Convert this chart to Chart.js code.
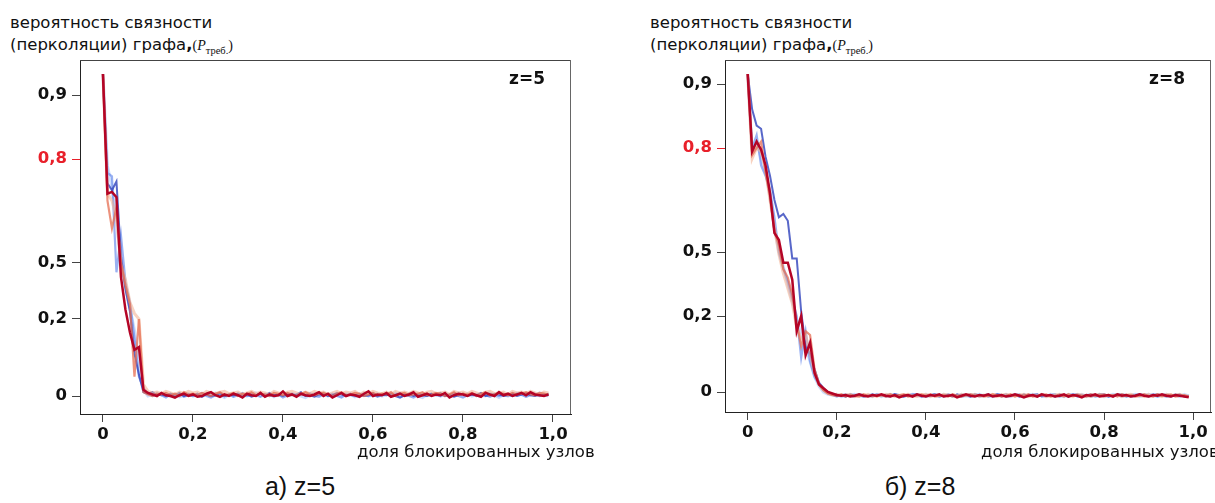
<!DOCTYPE html>
<html>
<head>
<meta charset="utf-8">
<script src="https://cdn.jsdelivr.net/npm/chart.js@4/dist/chart.umd.min.js"></script>
<style>
  html, body { margin: 0; padding: 0; background: #fff; width: 1215px; height: 503px; overflow: hidden; }
  .box { position: absolute; }
  .ttl { position: absolute; font-family: 'DejaVu Sans', sans-serif; font-size: 16.5px; line-height: 22px; color: #111; white-space: nowrap; }
  .ttl .p { font-family: 'Liberation Serif', serif; font-size: 14px; }
  .ttl sub { font-size: 10.5px; }
  .xt { position: absolute; font-family: 'DejaVu Sans', sans-serif; font-size: 16.5px; line-height: 20px; color: #111; white-space: nowrap; }
  .cap { position: absolute; width: 300px; text-align: center; font-family: 'Liberation Sans', Arial, sans-serif; font-size: 25px; line-height: 30px; color: #111; }
</style>
</head>
<body>
<div class="ttl" style="left:10px;top:12px">вероятность связности<br>(перколяции) графа<b>,</b><span class="p">(<i>P</i><sub>треб.</sub>)</span></div>
<div class="ttl" style="left:650px;top:12px">вероятность связности<br>(перколяции) графа<b>,</b><span class="p">(<i>P</i><sub>треб.</sub>)</span></div>
<div class="box" style="left:0;top:0;width:610px;height:470px"><canvas id="g5"></canvas></div>
<div class="box" style="left:645px;top:0;width:570px;height:470px"><canvas id="g8"></canvas></div>
<div class="xt" style="left:357px;top:442px">доля блокированных узлов</div>
<div class="xt" style="left:981px;top:442px">доля блокированных узлов</div>
<div class="cap" style="left:150px;top:471px">а) z=5</div>
<div class="cap" style="left:770px;top:471px">б) z=8</div>
<script>
// доля блокированных узлов
const xs = [
  0, 0.01, 0.02, 0.03, 0.04, 0.05, 0.06, 0.07, 0.08, 0.09,
  0.10, 0.11, 0.12, 0.13, 0.14, 0.15, 0.16, 0.17, 0.18, 0.19,
  0.20, 0.21, 0.22, 0.23, 0.24, 0.25, 0.26, 0.27, 0.28, 0.29,
  0.30, 0.31, 0.32, 0.33, 0.34, 0.35, 0.36, 0.37, 0.38, 0.39,
  0.40, 0.41, 0.42, 0.43, 0.44, 0.45, 0.46, 0.47, 0.48, 0.49,
  0.50, 0.51, 0.52, 0.53, 0.54, 0.55, 0.56, 0.57, 0.58, 0.59,
  0.60, 0.61, 0.62, 0.63, 0.64, 0.65, 0.66, 0.67, 0.68, 0.69,
  0.70, 0.71, 0.72, 0.73, 0.74, 0.75, 0.76, 0.77, 0.78, 0.79,
  0.80, 0.81, 0.82, 0.83, 0.84, 0.85, 0.86, 0.87, 0.88, 0.89,
  0.90, 0.91, 0.92, 0.93, 0.94, 0.95, 0.96, 0.97, 0.98, 0.99
];
const xTicks = [0, 0.2, 0.4, 0.6, 0.8, 1.0];
const yTicks = [0, 0.2, 0.5, 0.8, 0.9];

// z=5
const z5Red = [
  1.0, 0.70, 0.705, 0.69, 0.425, 0.25, 0.165, 0.12, 0.127, 0.016,
  0.008, 0.004, 0.0, 0.008, 0.002, 0.0, -0.004, 0.002, 0.006, 0.0,
  0.004, -0.002, 0.0, 0.006, 0.01, 0.002, -0.002, 0.004, 0.0, 0.006,
  0.002, -0.004, 0.006, 0.002, 0.0, 0.008, -0.002, 0.004, 0.0, 0.002,
  0.012, 0.0, 0.004, -0.002, 0.006, 0.002, 0.0, 0.004, 0.01, 0.0,
  0.006, -0.004, 0.002, 0.008, 0.0, 0.004, 0.002, -0.002, 0.006, 0.012,
  0.0, 0.004, 0.002, 0.008, -0.002, 0.002, 0.006, 0.0, 0.004, 0.01,
  -0.002, 0.002, 0.006, 0.0, 0.004, 0.002, 0.008, -0.004, 0.002, 0.006,
  0.004, 0.0, 0.006, 0.002, -0.002, 0.008, 0.004, 0.0, 0.01, 0.002,
  0.006, 0.0, 0.004, 0.008, 0.002, 0.01, 0.004, 0.002, 0.0, 0.004
];
const z5Orange = [
  1.0, 0.68, 0.60, 0.66, 0.50, 0.38, 0.28, 0.05, 0.20, 0.01,
  0.004, 0.0, 0.006, 0.004, 0.008, 0.002, 0.006, 0.0, 0.01, 0.004,
  0.006, 0.002, 0.008, 0.004, 0.0, 0.006, 0.01, 0.002, 0.004, 0.008,
  0.0, 0.006, 0.004, 0.01, 0.002, 0.006, 0.004, 0.0, 0.008, 0.006,
  0.002, 0.008, 0.004, 0.0, 0.006, 0.01, 0.004, 0.002, 0.006, 0.008,
  0.004, 0.0, 0.006, 0.01, 0.002, 0.004, 0.008, 0.006, 0.0, 0.004,
  0.008, 0.002, 0.006, 0.004, 0.01, 0.0, 0.006, 0.008, 0.002, 0.004,
  0.006, 0.01, 0.002, 0.004, 0.008, 0.006, 0.0, 0.004, 0.01, 0.002,
  0.006, 0.004, 0.008, 0.0, 0.006, 0.01, 0.002, 0.004, 0.008, 0.006,
  0.002, 0.008, 0.004, 0.006, 0.01, 0.004, 0.002, 0.008, 0.006, 0.004
];
const z5Salmon = [
  1.0, 0.70, 0.68, 0.63, 0.49, 0.41, 0.29, 0.23, 0.20, 0.03,
  0.012, 0.008, 0.01, 0.006, 0.012, 0.008, 0.004, 0.01, 0.006, 0.012,
  0.008, 0.01, 0.004, 0.012, 0.008, 0.006, 0.01, 0.012, 0.006, 0.008,
  0.01, 0.004, 0.008, 0.012, 0.006, 0.01, 0.008, 0.004, 0.012, 0.008,
  0.006, 0.01, 0.012, 0.008, 0.004, 0.01, 0.006, 0.012, 0.008, 0.01,
  0.004, 0.008, 0.012, 0.006, 0.01, 0.008, 0.012, 0.004, 0.01, 0.006,
  0.012, 0.008, 0.006, 0.01, 0.004, 0.012, 0.008, 0.01, 0.006, 0.012,
  0.008, 0.004, 0.01, 0.012, 0.006, 0.008, 0.01, 0.004, 0.012, 0.008,
  0.01, 0.006, 0.012, 0.008, 0.004, 0.01, 0.012, 0.006, 0.008, 0.01,
  0.004, 0.012, 0.008, 0.01, 0.006, 0.012, 0.008, 0.004, 0.01, 0.008
];
const z5DarkBlue = [
  1.0, 0.73, 0.71, 0.735, 0.52, 0.36, 0.24, 0.11, 0.055, 0.01,
  0.006, 0.01, 0.002, 0.004, 0.0, 0.006, 0.002, 0.008, 0.0, 0.004,
  0.002, 0.006, -0.002, 0.004, 0.0, 0.002, 0.008, 0.0, 0.004, 0.002,
  0.006, 0.0, 0.004, -0.002, 0.002, 0.006, 0.0, 0.008, 0.002, 0.004,
  0.0, 0.006, 0.002, 0.004, 0.01, 0.0, 0.002, -0.002, 0.004, 0.006,
  0.0, 0.002, 0.008, 0.004, 0.0, 0.006, 0.002, 0.004, 0.0, 0.002,
  0.008, 0.0, 0.004, 0.002, 0.006, 0.0, -0.004, 0.002, 0.006, 0.0,
  0.004, 0.002, 0.0, 0.006, 0.002, 0.008, 0.0, 0.004, -0.002, 0.002,
  0.006, 0.0, 0.004, 0.002, 0.008, 0.0, 0.002, 0.006, 0.004, 0.0,
  0.002, 0.006, 0.0, 0.004, 0.008, 0.002, 0.0, 0.004, 0.002, 0.006
];
const z5Blue = [
  1.0, 0.76, 0.75, 0.45, 0.58, 0.40, 0.29, 0.15, 0.05, 0.02,
  0.008, 0.0, 0.006, 0.002, -0.004, 0.004, 0.0, 0.006, -0.002, 0.002,
  0.0, 0.004, 0.008, 0.0, -0.004, 0.002, 0.006, 0.0, 0.004, -0.002,
  0.002, 0.008, 0.0, 0.004, 0.002, -0.002, 0.006, 0.0, 0.002, 0.004,
  -0.004, 0.002, 0.006, 0.0, 0.004, 0.002, 0.008, 0.0, -0.002, 0.004,
  0.002, 0.006, 0.0, -0.004, 0.004, 0.002, 0.0, 0.006, 0.002, 0.0,
  0.004, -0.002, 0.002, 0.006, 0.0, 0.004, 0.008, 0.002, 0.0, -0.004,
  0.002, 0.006, 0.0, 0.004, 0.002, 0.0, 0.006, 0.002, 0.008, 0.0,
  -0.004, 0.002, 0.004, 0.0, 0.006, 0.002, -0.002, 0.004, 0.0, 0.006,
  0.002, 0.0, 0.008, 0.004, -0.002, 0.002, 0.006, 0.0, 0.004, 0.002
];
const z5LightBlue = [
  1.0, 0.78, 0.72, 0.63, 0.50, 0.37, 0.26, 0.17, 0.09, 0.015,
  0.0, 0.004, 0.008, 0.002, 0.006, 0.0, 0.004, -0.002, 0.002, 0.006,
  0.0, 0.002, 0.006, 0.004, 0.0, 0.008, 0.002, -0.004, 0.004, 0.0,
  0.006, 0.002, 0.0, 0.004, 0.008, 0.0, 0.002, 0.006, -0.002, 0.004,
  0.002, 0.0, 0.006, 0.004, 0.0, -0.004, 0.002, 0.006, 0.002, 0.008,
  0.0, 0.004, 0.002, 0.0, 0.006, 0.004, -0.002, 0.002, 0.008, 0.0,
  0.002, 0.006, 0.0, 0.004, 0.002, 0.008, 0.0, 0.004, 0.002, 0.006,
  0.0, -0.004, 0.004, 0.002, 0.006, 0.0, 0.004, 0.002, 0.0, 0.008,
  0.002, 0.006, 0.0, 0.004, 0.002, 0.0, 0.008, 0.002, -0.004, 0.004,
  0.0, 0.006, 0.002, 0.004, 0.0, 0.006, 0.002, 0.008, 0.004, 0.0
];

// z=8
const z8Red = [
  1.0, 0.79, 0.81, 0.795, 0.75, 0.67, 0.555, 0.535, 0.45, 0.45,
  0.37, 0.16, 0.20, 0.097, 0.13, 0.05, 0.02, 0.01, 0.0, -0.004,
  -0.008, -0.01, -0.008, -0.012, -0.01, -0.006, -0.01, -0.012, -0.008, -0.01,
  -0.006, -0.01, -0.012, -0.008, -0.014, -0.01, -0.008, -0.012, -0.006, -0.01,
  -0.012, -0.008, -0.01, -0.006, -0.012, -0.01, -0.008, -0.014, -0.01, -0.006,
  -0.01, -0.012, -0.008, -0.01, -0.006, -0.012, -0.01, -0.008, -0.012, -0.01,
  -0.006, -0.01, -0.014, -0.01, -0.008, -0.012, -0.006, -0.01, -0.008, -0.012,
  -0.01, -0.006, -0.012, -0.008, -0.01, -0.014, -0.008, -0.01, -0.006, -0.012,
  -0.01, -0.008, -0.012, -0.006, -0.01, -0.008, -0.012, -0.01, -0.006, -0.01,
  -0.012, -0.008, -0.01, -0.006, -0.01, -0.012, -0.008, -0.01, -0.012, -0.014
];
const z8Orange = [
  1.0, 0.78, 0.80, 0.81, 0.73, 0.66, 0.56, 0.52, 0.42, 0.38,
  0.30, 0.18, 0.12, 0.16, 0.15, 0.06, 0.02, 0.005, -0.004, -0.008,
  -0.01, -0.006, -0.012, -0.008, -0.01, -0.012, -0.006, -0.01, -0.008, -0.012,
  -0.008, -0.012, -0.006, -0.01, -0.008, -0.006, -0.012, -0.01, -0.008, -0.006,
  -0.01, -0.006, -0.012, -0.01, -0.008, -0.012, -0.006, -0.01, -0.012, -0.008,
  -0.006, -0.01, -0.008, -0.012, -0.01, -0.006, -0.008, -0.012, -0.01, -0.006,
  -0.012, -0.008, -0.01, -0.006, -0.012, -0.01, -0.008, -0.006, -0.012, -0.01,
  -0.008, -0.012, -0.006, -0.01, -0.008, -0.01, -0.012, -0.006, -0.01, -0.008,
  -0.006, -0.01, -0.008, -0.012, -0.006, -0.01, -0.008, -0.012, -0.01, -0.006,
  -0.01, -0.012, -0.006, -0.01, -0.008, -0.006, -0.012, -0.01, -0.008, -0.012
];
const z8Salmon = [
  1.0, 0.77, 0.80, 0.79, 0.74, 0.65, 0.57, 0.49, 0.40, 0.33,
  0.26, 0.17, 0.14, 0.15, 0.10, 0.05, 0.02, 0.005, -0.004, -0.008,
  -0.006, -0.01, -0.008, -0.006, -0.012, -0.008, -0.01, -0.006, -0.012, -0.008,
  -0.01, -0.006, -0.008, -0.012, -0.01, -0.008, -0.006, -0.01, -0.012, -0.008,
  -0.006, -0.012, -0.008, -0.01, -0.006, -0.008, -0.012, -0.01, -0.006, -0.01,
  -0.008, -0.006, -0.012, -0.008, -0.01, -0.006, -0.012, -0.008, -0.006, -0.01,
  -0.01, -0.008, -0.006, -0.012, -0.008, -0.01, -0.006, -0.012, -0.01, -0.008,
  -0.006, -0.01, -0.008, -0.012, -0.006, -0.008, -0.01, -0.012, -0.008, -0.006,
  -0.012, -0.008, -0.01, -0.006, -0.012, -0.008, -0.006, -0.01, -0.008, -0.012,
  -0.006, -0.01, -0.008, -0.012, -0.006, -0.01, -0.008, -0.006, -0.01, -0.012
];
const z8DarkBlue = [
  1.0, 0.86, 0.835, 0.83, 0.775, 0.72, 0.65, 0.60, 0.61, 0.59,
  0.47, 0.47, 0.22, 0.12, 0.10, 0.06, 0.025, 0.01, 0.0, -0.006,
  -0.01, -0.008, -0.012, -0.006, -0.01, -0.008, -0.012, -0.01, -0.006, -0.01,
  -0.008, -0.012, -0.01, -0.006, -0.008, -0.012, -0.01, -0.008, -0.006, -0.012,
  -0.01, -0.008, -0.006, -0.012, -0.01, -0.008, -0.012, -0.006, -0.01, -0.008,
  -0.012, -0.006, -0.01, -0.008, -0.012, -0.01, -0.006, -0.008, -0.012, -0.01,
  -0.008, -0.012, -0.006, -0.01, -0.008, -0.006, -0.012, -0.01, -0.008, -0.012,
  -0.006, -0.01, -0.012, -0.008, -0.006, -0.01, -0.008, -0.012, -0.01, -0.006,
  -0.008, -0.012, -0.01, -0.006, -0.008, -0.012, -0.01, -0.008, -0.006, -0.01,
  -0.012, -0.008, -0.006, -0.01, -0.012, -0.008, -0.01, -0.006, -0.012, -0.01
];
const z8Blue = [
  1.0, 0.80, 0.82, 0.75, 0.72, 0.68, 0.60, 0.50, 0.42, 0.36,
  0.28, 0.20, 0.09, 0.16, 0.08, 0.04, 0.02, 0.005, -0.004, -0.008,
  -0.012, -0.008, -0.006, -0.01, -0.012, -0.006, -0.008, -0.01, -0.012, -0.006,
  -0.01, -0.008, -0.012, -0.006, -0.01, -0.012, -0.008, -0.006, -0.01, -0.008,
  -0.012, -0.01, -0.006, -0.008, -0.012, -0.006, -0.01, -0.008, -0.012, -0.01,
  -0.006, -0.008, -0.012, -0.01, -0.006, -0.01, -0.008, -0.012, -0.006, -0.01,
  -0.008, -0.006, -0.012, -0.01, -0.008, -0.012, -0.006, -0.01, -0.008, -0.006,
  -0.012, -0.008, -0.01, -0.006, -0.012, -0.01, -0.008, -0.006, -0.012, -0.01,
  -0.006, -0.012, -0.008, -0.01, -0.006, -0.008, -0.012, -0.01, -0.006, -0.008,
  -0.01, -0.006, -0.012, -0.008, -0.01, -0.012, -0.006, -0.008, -0.01, -0.012
];
const z8LightBlue = [
  1.0, 0.79, 0.81, 0.77, 0.73, 0.66, 0.57, 0.50, 0.43, 0.35,
  0.27, 0.19, 0.15, 0.12, 0.08, 0.04, 0.015, 0.0, -0.006, -0.008,
  -0.006, -0.012, -0.01, -0.008, -0.006, -0.01, -0.012, -0.008, -0.01, -0.006,
  -0.012, -0.008, -0.006, -0.01, -0.012, -0.008, -0.01, -0.006, -0.008, -0.012,
  -0.006, -0.01, -0.008, -0.012, -0.006, -0.01, -0.008, -0.012, -0.006, -0.01,
  -0.012, -0.008, -0.006, -0.01, -0.008, -0.012, -0.006, -0.01, -0.008, -0.012,
  -0.006, -0.01, -0.012, -0.008, -0.006, -0.01, -0.008, -0.012, -0.006, -0.008,
  -0.01, -0.012, -0.006, -0.008, -0.01, -0.006, -0.012, -0.008, -0.01, -0.006,
  -0.012, -0.01, -0.006, -0.008, -0.012, -0.01, -0.008, -0.006, -0.012, -0.008,
  -0.006, -0.01, -0.012, -0.008, -0.006, -0.01, -0.008, -0.012, -0.006, -0.01
];

// ось Y в оригинале неравномерная: значение -> доля высоты области графика
const anchors5 = [[0, 0.0508], [0.2, 0.2684], [0.5, 0.4266], [0.8, 0.7203], [0.9, 0.9011], [1.0, 0.9605]];
const anchors8 = [[0, 0.0568], [0.2, 0.2727], [0.5, 0.4545], [0.8, 0.75], [0.9, 0.9318], [1.0, 0.9602]];

class WarpScale extends Chart.LinearScale {
  buildTicks() {
    return this.options.tickValues.map(v => ({ value: v }));
  }
  warp(v) {
    const a = this.options.anchors;
    let i = 1;
    while (i < a.length - 1 && v > a[i][0]) i++;
    const p = a[i - 1], q = a[i];
    return p[1] + (v - p[0]) * (q[1] - p[1]) / (q[0] - p[0]);
  }
  getPixelForValue(v) {
    return v === null || v === undefined ? NaN : this.getPixelForDecimal(this.warp(v));
  }
  getValueForPixel(px) {
    const d = this.getDecimalForPixel(px);
    const a = this.options.anchors;
    let i = 1;
    while (i < a.length - 1 && d > a[i][1]) i++;
    const p = a[i - 1], q = a[i];
    return p[0] + (d - p[1]) * (q[0] - p[0]) / (q[1] - p[1]);
  }
}
WarpScale.id = 'warp';
WarpScale.defaults = {};
Chart.register(WarpScale);

Chart.defaults.font.family = "'DejaVu Sans', sans-serif";

const RED = '#e8202a';
const fmt = v => (v === 0 ? '0' : v.toFixed(1).replace('.', ','));

const frame = {
  id: 'frame',
  beforeDatasetsDraw(chart) {
    const a = chart.chartArea, c = chart.ctx;
    c.save();
    c.lineWidth = 1;
    c.strokeStyle = '#444';
    c.beginPath();
    c.moveTo(a.left, a.top + 0.5);
    c.lineTo(a.right - 0.5, a.top + 0.5);
    c.stroke();
    c.strokeStyle = '#666';
    c.beginPath();
    c.moveTo(a.right - 0.5, a.top);
    c.lineTo(a.right - 0.5, a.bottom);
    c.stroke();
    c.restore();
  },
  afterDraw(chart, args, opts) {
    const a = chart.chartArea, c = chart.ctx;
    c.save();
    c.font = "bold 17px 'DejaVu Sans', sans-serif";
    c.fillStyle = '#111';
    c.textAlign = 'center';
    c.textBaseline = 'middle';
    c.fillText(opts.label, a.right - 44, a.top + 20);
    c.restore();
  }
};

function seriesSet(red, orange, salmon, darkBlue, blue, lightBlue) {
  // первый набор рисуется поверх остальных
  const list = [
    [red, 'rgba(180,4,38,1)', 2.5],
    [orange, 'rgba(230,110,82,0.75)', 2.2],
    [salmon, 'rgba(244,180,150,0.6)', 3],
    [darkBlue, 'rgba(59,76,192,0.85)', 2],
    [blue, 'rgba(100,135,235,0.65)', 2.2],
    [lightBlue, 'rgba(170,198,250,0.6)', 3]
  ];
  return list.map(([ys, color, w]) => ({
    data: xs.map((x, i) => ({ x: x, y: ys[i] })),
    borderColor: color,
    borderWidth: w,
    pointRadius: 0,
    tension: 0,
    fill: false
  }));
}

function makeChart(id, datasets, anchors, label, padRight, xHeight) {
  return new Chart(document.getElementById(id), {
    type: 'line',
    data: { datasets: datasets },
    plugins: [frame],
    options: {
      responsive: true,
      maintainAspectRatio: false,
      animation: false,
      layout: { padding: { left: 0, top: 60, right: padRight, bottom: 0 } },
      plugins: {
        legend: { display: false },
        tooltip: { enabled: false },
        frame: { label: label }
      },
      scales: {
        x: {
          type: 'linear',
          min: -0.051,
          max: 1.04,
          afterBuildTicks: s => { s.ticks = xTicks.map(v => ({ value: v })); },
          afterFit: s => { s.height = xHeight; },
          border: { color: '#222', width: 1 },
          grid: { drawOnChartArea: false, tickLength: 8, color: '#444' },
          ticks: {
            callback: v => fmt(v),
            color: '#111',
            padding: 3,
            maxRotation: 0,
            font: { size: 16.5, weight: 'bold' }
          }
        },
        y: {
          type: 'warp',
          anchors: anchors,
          tickValues: yTicks,
          min: 0,
          max: 1,
          afterFit: s => { s.width = 80; },
          border: { color: '#222', width: 1 },
          grid: {
            drawOnChartArea: false,
            tickLength: 8,
            color: ctx => (ctx.tick && ctx.tick.value === 0.8 ? RED : '#444')
          },
          ticks: {
            callback: v => fmt(v),
            color: ctx => (ctx.tick && ctx.tick.value === 0.8 ? RED : '#111'),
            padding: 5,
            font: { size: 16.5, weight: 'bold' }
          }
        }
      }
    }
  });
}

makeChart('g5', seriesSet(z5Red, z5Orange, z5Salmon, z5DarkBlue, z5Blue, z5LightBlue), anchors5, 'z=5', 39, 56);
makeChart('g8', seriesSet(z8Red, z8Orange, z8Salmon, z8DarkBlue, z8Blue, z8LightBlue), anchors8, 'z=8', 4, 58);
</script>
</body>
</html>
